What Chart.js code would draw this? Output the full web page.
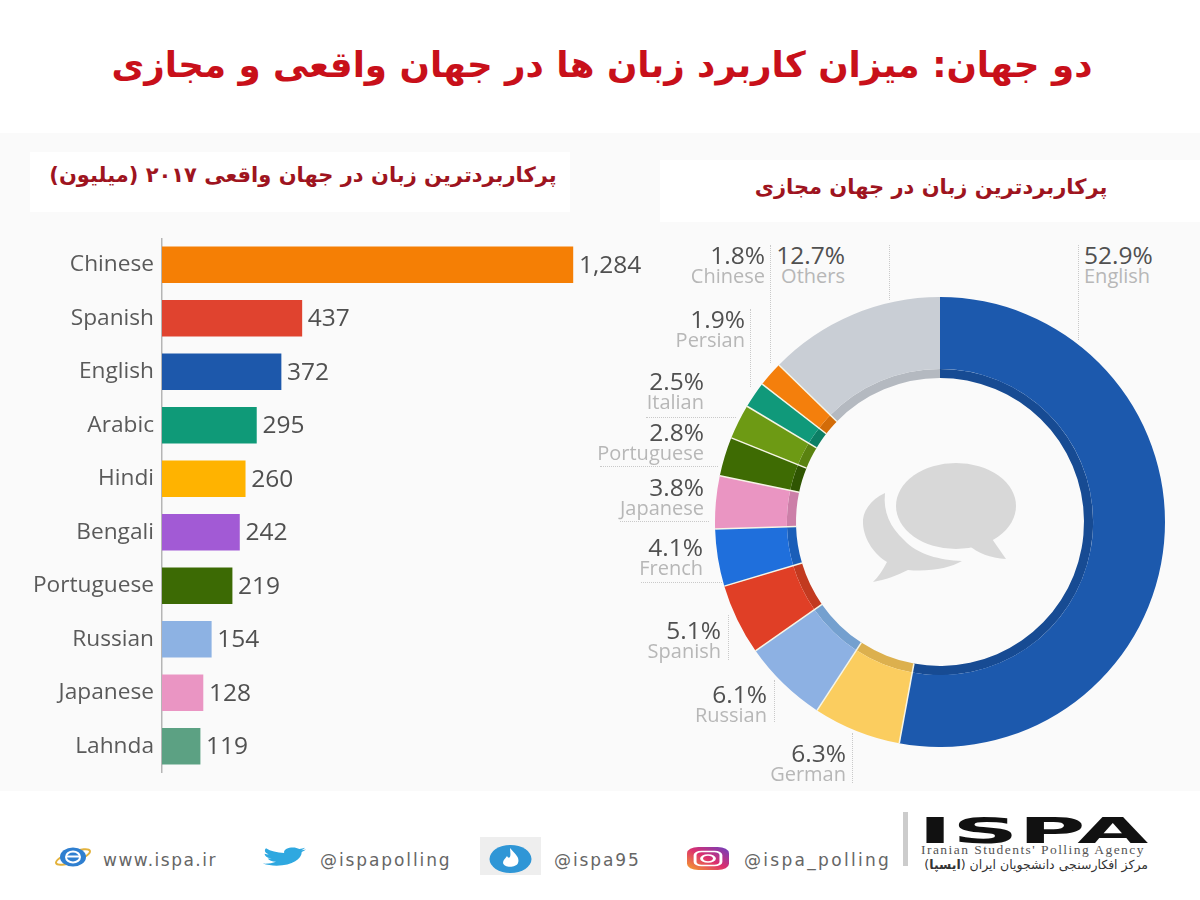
<!DOCTYPE html>
<html>
<head>
<meta charset="utf-8">
<script src="https://cdn.jsdelivr.net/npm/chart.js@4/dist/chart.umd.min.js"></script>
<style>
  body { margin: 0; background: #fff; }
  #page { position: relative; width: 1200px; height: 900px; overflow: hidden; background: #fff; font-family: "Open Sans", sans-serif; }
  #panel { position: absolute; left: 0; top: 133px; width: 1200px; height: 658px; background: #fafafa; }
  #title { position: absolute; left: 0; top: 38px; width: 1204px; text-align: center; direction: rtl; color: #c8101a;
           font: bold 35.7px "DejaVu Sans", sans-serif; line-height: 54px; }
  .subbox { position: absolute; background: #fff; text-align: center; direction: rtl; color: #9e1420;
            font: bold 21px "DejaVu Sans", sans-serif; }
  canvas { position: absolute; }
  .lab { position: absolute; line-height: 1; white-space: nowrap; }
  .lab b { display: block; font-weight: 400; font-size: 24.5px; color: #505050; height: 23px; }
  .lab i { display: block; font-style: normal; font-size: 20px; color: #b7b7b7; }
  .foot { position: absolute; top: 850px; font: 17px "DejaVu Sans", sans-serif; color: #666; letter-spacing: 1.9px; }
  svg { position: absolute; }
</style>
</head>
<body>
<div id="page">
  <div id="panel"></div>
  <div id="title">دو جهان: میزان کاربرد زبان ها در جهان واقعی و مجازی</div>
  <div class="subbox" style="left:30px;top:152px;width:534px;padding-left:6px;height:60px;line-height:46px;">پرکاربردترین زبان در جهان واقعی ۲۰۱۷ (میلیون)</div>
  <div class="subbox" style="left:660px;top:160px;width:542px;height:62px;line-height:54px;">پرکاربردترین زبان در جهان مجازی</div>

  <canvas id="bars" width="650" height="535" style="left:0;top:238px;"></canvas>
  <canvas id="donut" width="450" height="450" style="left:715px;top:297px;"></canvas>

  <!-- speech bubbles in the middle of the donut -->
  <svg style="left:840px;top:440px" width="200" height="150" viewBox="0 0 200 150">
    <path d="M45 53 C30 60 22 72 23 84 C24 100 35 115 47 122 C43 130 38 137 33 142 C45 140 58 135 68 130 C90 132 110 128 122 121 C100 120 78 115 64 100 C50 87 43 72 45 53Z" fill="#d8d8d8"/>
    <ellipse cx="116" cy="66" rx="60" ry="43" fill="#d8d8d8"/>
    <path d="M150 96 L166 119 C150 118 138 113 128 105Z" fill="#d8d8d8"/>
  </svg>

  <!-- footer -->
  <svg style="left:54px;top:847px" width="38" height="20" viewBox="0 0 38 20" preserveAspectRatio="none">
    <ellipse cx="19" cy="10" rx="18" ry="5" fill="none" stroke="#e3b23c" stroke-width="2" transform="rotate(-20 19 10)"/>
    <ellipse cx="19" cy="10" rx="13" ry="9.500" fill="#2f7fd0"/>
    <rect x="12" y="8.500" width="14" height="2" fill="#fff"/>
    <ellipse cx="19" cy="10" rx="7" ry="5.500" fill="none" stroke="#fff" stroke-width="2"/>
  </svg>
  <div class="foot" style="left:103px;letter-spacing:1.5px;">www.ispa.ir</div>
  <svg style="left:262px;top:847px" width="46" height="20" viewBox="0 0 24 20" preserveAspectRatio="none">
    <path d="M23 2.600c-.8.4-1.700.6-2.600.7.9-.6 1.600-1.400 2-2.500-.9.5-1.900.9-2.900 1.100C18.600 1 17.400.4 16.100.4c-2.500 0-4.600 2.100-4.600 4.600 0 .4 0 .7.100 1C7.800 5.900 4.400 4.100 2.100 1.300c-.4.700-.6 1.500-.6 2.300 0 1.600.8 3 2 3.800-.8 0-1.500-.2-2.100-.6v.1c0 2.200 1.600 4.100 3.700 4.500-.7.200-1.400.2-2.100.1.600 1.800 2.300 3.200 4.300 3.200-1.600 1.200-3.600 2-5.700 2-.4 0-.7 0-1.100-.1 2 1.300 4.500 2.100 7.100 2.100 8.500 0 13.100-7 13.100-13.100v-.6c.9-.6 1.700-1.500 2.300-2.400z" fill="#2fa8e0"/>
  </svg>
  <div class="foot" style="left:320px;">@ispapolling</div>
  <svg style="left:480px;top:837px" width="61" height="38" viewBox="0 0 61 38">
    <rect width="61" height="38" fill="#eeeeee"/>
    <ellipse cx="30.500" cy="22" rx="21" ry="14" fill="#2f96d6"/>
    <path d="M30 11 C35 17 40 20 38 26 C36 31 24 31 23 26 C23 23 25 22 27 19 C28 21 29 21 30 20 C31 17 30 14 30 11Z" fill="#fff"/>
  </svg>
  <div class="foot" style="left:554px;">@ispa95</div>
  <svg style="left:687px;top:847px" width="42" height="23" viewBox="0 0 26 26" preserveAspectRatio="none">
    <defs><linearGradient id="ig" x1="0" y1="1" x2="1" y2="0">
      <stop offset="0" stop-color="#f6a22b"/><stop offset=".5" stop-color="#dc2f6e"/><stop offset="1" stop-color="#6a3fc0"/>
    </linearGradient></defs>
    <rect width="26" height="26" rx="7" fill="url(#ig)"/>
    <rect x="5" y="5" width="16" height="16" rx="4" fill="none" stroke="#fff" stroke-width="1.800"/>
    <circle cx="13" cy="13" r="4" fill="none" stroke="#fff" stroke-width="1.800"/>
  </svg>
  <div class="foot" style="left:744px;letter-spacing:2.3px;">@ispa_polling</div>
  <div style="position:absolute;left:903px;top:812px;width:5px;height:54px;background:#cccccc;"></div>
  <div style="position:absolute;left:918px;top:810px;font:bold 36px 'DejaVu Sans',sans-serif;color:#111;transform:scaleX(2.55);transform-origin:left top;line-height:42px;">ISPA</div>
  <div style="position:absolute;left:921px;top:842px;font:13.500px 'Liberation Serif',serif;letter-spacing:1.45px;color:#555;white-space:nowrap;">Iranian Students' Polling Agency</div>
  <div style="position:absolute;left:918px;top:857px;width:230px;direction:rtl;font:12.500px 'DejaVu Sans',sans-serif;color:#333;white-space:nowrap;">مرکز افکارسنجی دانشجویان ایران (<b>ایسپا</b>)</div>
</div>

<script>
// Left chart: most used languages in the real world, 2017 (millions)
const barLabels = ["Chinese", "Spanish", "English", "Arabic", "Hindi", "Bengali", "Portuguese", "Russian", "Japanese", "Lahnda"];
const barValues = [1284, 437, 372, 295, 260, 242, 219, 154, 128, 119];
const barColors = ["#f57f05", "#e0432f", "#1d58ab", "#0f9a78", "#ffb300", "#a25ad5", "#3c6a04", "#8db2e3", "#ea95c3", "#5ca183"];

// Right chart: most used languages on the web (percent)
const webLabels = ["English", "German", "Russian", "Spanish", "French", "Japanese", "Portuguese", "Italian", "Persian", "Chinese", "Others"];
const webValues = [52.9, 6.3, 6.1, 5.1, 4.1, 3.8, 2.8, 2.5, 1.9, 1.8, 12.7];
const webColors = ["#1c59ad", "#fbcd5f", "#8db1e3", "#e03f26", "#1f6fdc", "#ea95c2", "#3e6b03", "#6d9a14", "#10997a", "#f47f0c", "#c9ced5"];
const webDarkColors = ["#174b93", "#dcb04e", "#74a0cf", "#c23a20", "#1a5eb8", "#cc7fa8", "#2f5502", "#5a8210", "#0c7f65", "#d36c08", "#b4b9c0"];

// where the donut captions go: [side, x edge, top]
const captionSpots = [
  ["left", 1084, 243], ["right", 846, 741], ["right", 767, 682], ["right", 721, 618], ["right", 703, 535],
  ["right", 704, 475], ["right", 704, 420], ["right", 704, 369], ["right", 745, 307], ["right", 765, 243], ["right", 845, 243]
];
// dotted leader lines: x1, y1, x2, y2
const leaders = [
  [1078, 245, 1078, 340], [889, 245, 889, 300], [770, 245, 770, 363], [750, 309, 750, 387],
  [646, 417, 736, 417], [600, 466, 718, 466], [620, 521, 709, 521], [641, 582, 722, 582],
  [728, 615, 728, 660], [774, 680, 774, 722], [852, 733, 852, 783]
];

const barValuePlugin = {
    id: "barValues",
    afterDatasetsDraw(chart) {
        const c = chart.ctx;
        c.save();
        c.font = "24.5px 'Open Sans'";
        c.fillStyle = "#505050";
        c.textBaseline = "middle";
        chart.getDatasetMeta(0).data.forEach((bar, i) => {
            c.fillText(barValues[i].toLocaleString("en-US"), bar.x + 6, bar.y + 1);
        });
        c.restore();
    },
};

// thin pale lines between the slices, across both rings
const sliceLinesPlugin = {
    id: "sliceLines",
    afterDatasetsDraw(chart) {
        const c = chart.ctx;
        const outer = chart.getDatasetMeta(0).data;
        const inner = chart.getDatasetMeta(1).data;
        c.save();
        c.strokeStyle = "#f6f5e6";
        c.lineWidth = 1.5;
        outer.forEach((arc, i) => {
            if (i === 0) return;
            const a = arc.startAngle;
            c.beginPath();
            c.moveTo(arc.x + inner[i].innerRadius * Math.cos(a), arc.y + inner[i].innerRadius * Math.sin(a));
            c.lineTo(arc.x + arc.outerRadius * Math.cos(a), arc.y + arc.outerRadius * Math.sin(a));
            c.stroke();
        });
        c.restore();
    },
};

new Chart(document.getElementById("bars"), {
    type: "bar",
    data: {
        labels: barLabels,
        datasets: [{ data: barValues, backgroundColor: barColors, barThickness: 36 }],
    },
    options: {
        indexAxis: "y",
        responsive: false,
        animation: false,
        layout: { padding: { right: 8 } },
        plugins: { legend: { display: false }, tooltip: { enabled: false } },
        scales: {
            x: { display: false, min: 0, max: 1500 },
            y: {
                afterFit(scale) {
                    scale.width = 162;
                    scale.paddingTop = 0;
                    scale.paddingBottom = 0;
                },
                grid: { display: false, drawTicks: false },
                border: { color: "#b5b5b5", width: 1.5 },
                ticks: { color: "#5a5a5a", font: { family: "Open Sans", size: 22.7 }, padding: 8 },
            },
        },
    },
    plugins: [barValuePlugin],
});

new Chart(document.getElementById("donut"), {
    type: "doughnut",
    data: {
        labels: webLabels,
        datasets: [
            { data: webValues, backgroundColor: webColors, borderWidth: 0, weight: 71 },
            { data: webValues, backgroundColor: webDarkColors, borderWidth: 0, weight: 9 },
        ],
    },
    options: {
        responsive: false,
        animation: false,
        cutout: "64%",
        plugins: { legend: { display: false }, tooltip: { enabled: false } },
    },
    plugins: [sliceLinesPlugin],
});

// captions and leader lines for the donut
const page = document.getElementById("page");
webLabels.forEach((name, i) => {
    const [side, edge, top] = captionSpots[i];
    const el = document.createElement("div");
    el.className = "lab";
    el.style.top = top + "px";
    el.style.textAlign = side;
    if (side === "left") el.style.left = edge + "px";
    else el.style.right = (1200 - edge) + "px";
    el.innerHTML = `<b>${webValues[i]}%</b><i>${name}</i>`;
    page.appendChild(el);
});
leaders.forEach(([x1, y1, x2, y2]) => {
    const line = document.createElement("div");
    line.style.cssText = `position:absolute;left:${x1}px;top:${y1}px;width:${x2 - x1}px;height:${y2 - y1}px;` +
        (x1 === x2 ? "border-left" : "border-top") + ":1px dotted #c9c9c9;";
    page.appendChild(line);
});
</script>
</body>
</html>
